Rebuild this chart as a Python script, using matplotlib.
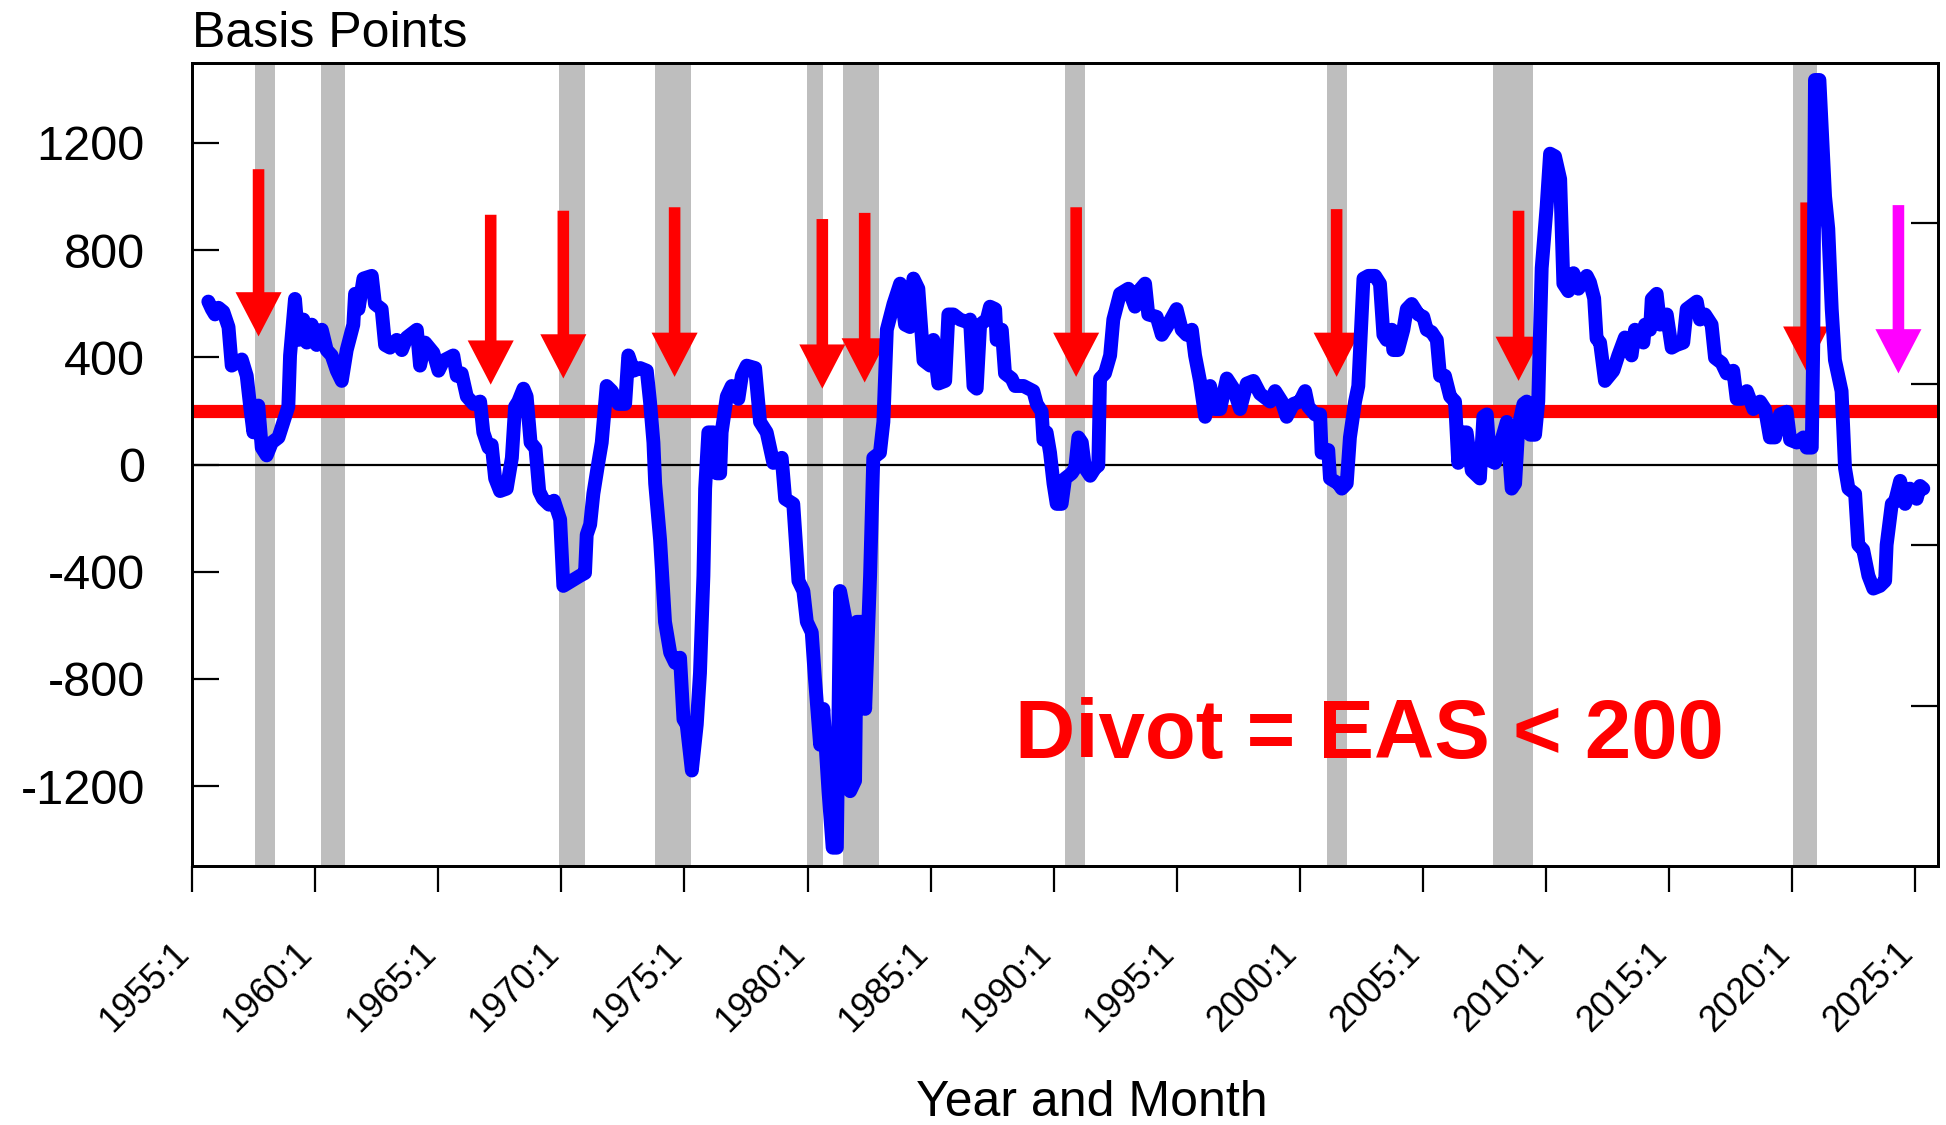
import matplotlib
matplotlib.use("Agg")
import matplotlib.pyplot as plt
from matplotlib.patches import FancyArrow
from matplotlib.transforms import ScaledTranslation

plt.rcParams['font.family'] = ['Liberation Sans', 'DejaVu Sans']
plt.rcParams['axes.unicode_minus'] = False

# EAS spread in basis points (year as decimal)
years = [
    1955.66, 1955.80, 1955.93, 1956.07, 1956.27, 1956.48, 1956.61, 1957.02, 1957.22, 1957.36,
    1957.49, 1957.62, 1957.69, 1957.83, 1958.03, 1958.24, 1958.51, 1958.71, 1958.91, 1958.98,
    1959.18, 1959.32, 1959.52, 1959.66, 1959.86, 1960.06, 1960.27, 1960.47, 1960.67, 1960.88,
    1961.08, 1961.28, 1961.55, 1961.62, 1961.76, 1961.96, 1962.30, 1962.43, 1962.70, 1962.84,
    1963.04, 1963.31, 1963.52, 1963.72, 1964.13, 1964.26, 1964.46, 1964.80, 1965.01, 1965.21,
    1965.61, 1965.75, 1965.95, 1966.16, 1966.43, 1966.70, 1966.83, 1967.04, 1967.17, 1967.31,
    1967.51, 1967.78, 1967.99, 1968.12, 1968.25, 1968.46, 1968.59, 1968.75, 1968.95, 1969.10,
    1969.25, 1969.50, 1969.70, 1969.95, 1970.08, 1970.42, 1970.76, 1970.96, 1971.03, 1971.17,
    1971.30, 1971.50, 1971.64, 1971.84, 1972.05, 1972.32, 1972.59, 1972.72, 1972.93, 1973.20,
    1973.47, 1973.60, 1973.74, 1973.81, 1974.01, 1974.21, 1974.42, 1974.62, 1974.82, 1974.96,
    1975.09, 1975.30, 1975.50, 1975.63, 1975.77, 1975.84, 1975.97, 1976.18, 1976.31, 1976.45,
    1976.51, 1976.72, 1976.92, 1977.19, 1977.33, 1977.53, 1977.87, 1978.07, 1978.34, 1978.61,
    1978.95, 1979.09, 1979.42, 1979.63, 1979.83, 1979.97, 1980.17, 1980.30, 1980.51, 1980.64,
    1980.85, 1981.02, 1981.19, 1981.32, 1981.52, 1981.73, 1981.93, 1982.00, 1982.20, 1982.34,
    1982.54, 1982.67, 1982.94, 1983.08, 1983.22, 1983.49, 1983.69, 1983.76, 1983.96, 1984.16,
    1984.30, 1984.50, 1984.71, 1984.98, 1985.11, 1985.31, 1985.59, 1985.72, 1985.92, 1986.19,
    1986.47, 1986.60, 1986.74, 1986.87, 1987.01, 1987.28, 1987.41, 1987.62, 1987.68, 1987.89,
    1988.02, 1988.29, 1988.43, 1988.77, 1989.17, 1989.31, 1989.51, 1989.58, 1989.71, 1989.85,
    1989.99, 1990.12, 1990.32, 1990.46, 1990.73, 1990.87, 1991.00, 1991.14, 1991.27, 1991.48,
    1991.68, 1991.81, 1991.88, 1992.08, 1992.29, 1992.42, 1992.69, 1993.03, 1993.30, 1993.44,
    1993.71, 1993.84, 1994.18, 1994.39, 1994.59, 1994.99, 1995.20, 1995.40, 1995.61, 1995.74,
    1995.94, 1996.15, 1996.35, 1996.55, 1996.76, 1997.03, 1997.30, 1997.57, 1997.84, 1998.11,
    1998.38, 1998.79, 1998.99, 1999.26, 1999.46, 1999.73, 2000.00, 2000.21, 2000.34, 2000.61,
    2000.82, 2000.88, 2001.15, 2001.22, 2001.56, 2001.70, 2001.90, 2002.03, 2002.24, 2002.37,
    2002.58, 2002.78, 2003.05, 2003.25, 2003.39, 2003.52, 2003.73, 2003.79, 2003.98, 2004.20,
    2004.34, 2004.54, 2004.81, 2005.01, 2005.15, 2005.35, 2005.56, 2005.69, 2005.89, 2006.10,
    2006.30, 2006.43, 2006.64, 2006.77, 2006.98, 2007.31, 2007.45, 2007.59, 2007.72, 2007.92,
    2008.13, 2008.40, 2008.60, 2008.74, 2008.87, 2009.08, 2009.21, 2009.35, 2009.55, 2009.68,
    2009.75, 2009.82, 2010.02, 2010.16, 2010.36, 2010.57, 2010.70, 2010.90, 2011.11, 2011.31,
    2011.65, 2011.78, 2011.95, 2012.05, 2012.19, 2012.39, 2012.73, 2012.93, 2013.20, 2013.47,
    2013.61, 2013.95, 2014.02, 2014.22, 2014.29, 2014.49, 2014.63, 2014.90, 2015.10, 2015.30,
    2015.57, 2015.71, 2015.84, 2016.12, 2016.25, 2016.45, 2016.72, 2016.86, 2017.13, 2017.33,
    2017.60, 2017.74, 2017.94, 2018.15, 2018.42, 2018.69, 2018.89, 2019.09, 2019.30, 2019.50,
    2019.77, 2019.91, 2020.18, 2020.45, 2020.58, 2020.79, 2020.85, 2020.92, 2021.10, 2021.33,
    2021.46, 2021.60, 2021.73, 2022.00, 2022.14, 2022.28, 2022.55, 2022.68, 2022.88, 2023.09,
    2023.29, 2023.56, 2023.77, 2023.83, 2024.04, 2024.17, 2024.38, 2024.58, 2024.78, 2025.05,
    2025.19, 2025.32,
]
eas = [
    608, 580, 560, 585, 570, 513, 369, 392, 331, 216,
    120, 200, 220, 63, 34, 82, 101, 159, 216, 407,
    618, 465, 541, 455, 522, 446, 503, 427, 407, 350,
    312, 427, 522, 637, 580, 694, 704, 599, 580, 446,
    436, 465, 427, 474, 503, 369, 455, 417, 350, 388,
    407, 331, 340, 254, 226, 235, 120, 63, 73, -52,
    -99, -90, 25, 216, 235, 283, 254, 82, 60, -100,
    -128, -150, -135, -205, -453, -434, -415, -405, -262, -224,
    -109, 6, 82, 293, 274, 226, 226, 407, 350, 360,
    350, 235, 82, -71, -281, -587, -702, -740, -721, -951,
    -970, -1142, -970, -779, -415, -90, 120, 120, -33, -33,
    120, 254, 293, 245, 331, 369, 360, 159, 120, 6,
    25, -128, -147, -434, -472, -587, -626, -798, -1046, -912,
    -1219, -1430, -1430, -472, -568, -1219, -1180, -587, -587, -912,
    -415, 25, 44, 159, 503, 599, 656, 675, 522, 513,
    694, 656, 388, 369, 465, 302, 312, 560, 560, 541,
    532, 541, 293, 283, 522, 541, 589, 580, 465, 503,
    340, 321, 293, 293, 274, 226, 197, 92, 120, 44,
    -71, -147, -147, -52, -33, -13, 101, 82, -13, -42,
    -13, -4, 321, 340, 407, 541, 637, 656, 589, 646,
    675, 560, 551, 484, 513, 580, 503, 484, 503, 407,
    312, 178, 293, 207, 207, 321, 283, 207, 302, 312,
    264, 235, 274, 235, 178, 226, 235, 274, 216, 187,
    187, 44, 54, -52, -71, -90, -71, 101, 235, 293,
    694, 704, 704, 675, 484, 465, 503, 427, 427, 503,
    580, 599, 560, 551, 503, 494, 465, 331, 331, 254,
    235, 6, 120, 120, -23, -52, 178, 187, 15, 6,
    73, 159, -90, -71, 140, 226, 235, 111, 111, 235,
    494, 733, 962, 1160, 1150, 1065, 675, 647, 714, 656,
    704, 680, 620, 470, 455, 312, 350, 407, 474, 407,
    503, 455, 522, 503, 618, 637, 522, 560, 436, 446,
    455, 580, 589, 608, 541, 560, 522, 398, 379, 340,
    350, 245, 245, 274, 207, 235, 207, 101, 101, 187,
    197, 92, 82, 101, 63, 63, 446, 1435, 1435, 1000,
    880, 580, 390, 274, -13, -90, -109, -300, -319, -415,
    -463, -453, -434, -300, -147, -138, -61, -147, -90, -128,
    -80, -90,
]

# NBER recessions (shaded), as drawn
recession_start = [1957.56, 1960.24, 1969.91, 1973.81, 1979.99, 1981.43, 1990.46, 2001.11, 2007.85, 2020.04]
recession_end = [1958.37, 1961.21, 1970.96, 1975.27, 1980.62, 1982.90, 1991.27, 2001.90, 2009.45, 2020.99]

# divot arrows: x position, shaft top and tip (basis points)
arrow_x = [1957.70, 1967.13, 1970.08, 1974.60, 1980.60, 1982.32, 1990.91, 2001.49, 2008.88, 2020.56, 2024.31]
arrow_top = [1102, 932, 947, 960, 916, 939, 960, 953, 947, 978, 968]
arrow_tip = [478, 298, 321, 327, 283, 306, 327, 327, 312, 350, 340]

threshold = 200
y_ticks = [-1200, -800, -400, 0, 400, 800, 1200]
right_ticks = [-900, -300, 300, 900]
tick_years = list(range(1955, 2030, 5))
tick_labels = [f"{y}:1" for y in tick_years]

fig = plt.figure(figsize=(19.46, 11.25), dpi=100)
ax = fig.add_axes([0.0987, 0.2298, 0.8971, 0.7146])

for s, e in zip(recession_start, recession_end):
    ax.axvspan(s, e, color='#bebebe', lw=0, zorder=0)

ax.axhline(0, color='black', lw=1.6, zorder=1)
ax.axhline(threshold, color='red', lw=9.5, zorder=2)

for i, (x, top, tip) in enumerate(zip(arrow_x, arrow_top, arrow_tip)):
    c = 'magenta' if i == len(arrow_x) - 1 else 'red'
    ax.add_patch(FancyArrow(x, top, 0, tip - top, width=0.47, head_width=1.87,
                            head_length=165, length_includes_head=True,
                            color=c, lw=0, zorder=3))

ax.plot(years, eas, color='blue', lw=10, solid_joinstyle='round',
        solid_capstyle='round', zorder=4)

ax.text(2002.83, -1094, 'Divot = EAS < 200', color='red', fontsize=60,
        fontweight='bold', ha='center', va='baseline', zorder=5)

ax.set_xlim(1955.0, 2025.91)
ax.set_ylim(-1500, 1500)

ax.set_yticks(y_ticks)
ax.set_yticklabels([str(v) for v in y_ticks], fontsize=35)
ax.tick_params(axis='y', direction='in', length=19.4, width=1.6, pad=34)

ax.set_xticks(tick_years)
ax.set_xticklabels(tick_labels, fontsize=26, rotation=45, ha='right',
                   va='center', rotation_mode='anchor')
ax.tick_params(axis='x', direction='out', length=19, width=1.6, pad=40)

for sp in ax.spines.values():
    sp.set_linewidth(2)

ax2 = ax.twinx()
ax2.set_ylim(-1500, 1500)
ax2.set_yticks(right_ticks)
ax2.tick_params(axis='y', direction='in', length=19.4, width=1.6, labelright=False)
for sp in ax2.spines.values():
    sp.set_linewidth(2)

# nudge the rotated year labels a little to the left, as in the original
shift = ScaledTranslation(-8 / 100, 0, fig.dpi_scale_trans)
for lbl in ax.get_xticklabels():
    lbl.set_transform(lbl.get_transform() + shift)

fig.text(192 / 1946, 1 - 46.7 / 1125, 'Basis Points', fontsize=36,
         ha='left', va='baseline')
fig.text(1092 / 1946, 1 - 1116 / 1125, 'Year and Month', fontsize=36,
         ha='center', va='baseline')

fig.savefig('out.png', dpi=100)
